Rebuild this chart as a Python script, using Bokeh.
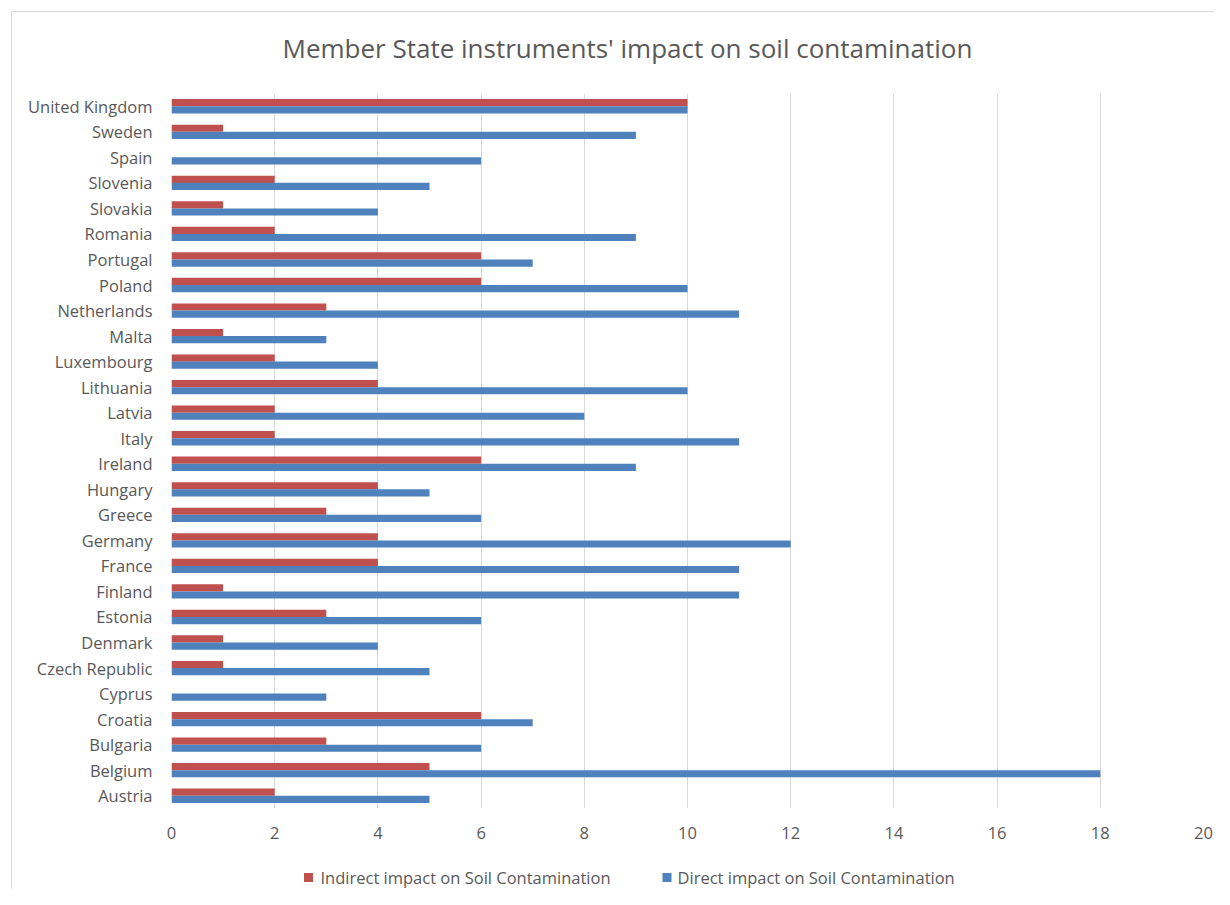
from bokeh.plotting import figure
from bokeh.layouts import column
from bokeh.models import FactorRange, Range1d, FixedTicker, ColumnDataSource
from bokeh.core.properties import value
from bokeh.transform import dodge
from bokeh.embed import file_html
from bokeh.resources import INLINE

countries = ["Austria", "Belgium", "Bulgaria", "Croatia", "Cyprus", "Czech Republic",
             "Denmark", "Estonia", "Finland", "France", "Germany", "Greece", "Hungary",
             "Ireland", "Italy", "Latvia", "Lithuania", "Luxembourg", "Malta",
             "Netherlands", "Poland", "Portugal", "Romania", "Slovakia", "Slovenia",
             "Spain", "Sweden", "United Kingdom"]
indirect = [2, 5, 3, 6, 0, 1, 1, 3, 1, 4, 4, 3, 4, 6, 2, 2, 4, 2, 1, 3, 6, 6, 2, 1, 2, 0, 1, 10]
direct = [5, 18, 6, 7, 3, 5, 4, 6, 11, 11, 12, 6, 5, 9, 11, 8, 10, 4, 3, 11, 10, 7, 9, 4, 5, 6, 9, 10]
x_ticks = [0, 2, 4, 6, 8, 10, 12, 14, 16, 18, 20]
series_names = ["Indirect impact on Soil Contamination", "Direct impact on Soil Contamination"]

TITLE = "Member State instruments' impact on soil contamination"
RED = "#C0504D"
BLUE = "#4F81BD"
GRAY = "#595959"
FONT = "Open Sans"
W = 1214
LEFT, RIGHT = 171, 11
MAIN_H, LEG_H = 846, 43

src = ColumnDataSource(dict(country=countries, indirect=indirect, direct=direct))

p = figure(width=W, height=MAIN_H, y_range=FactorRange(*countries), x_range=Range1d(0, 20),
           output_backend="svg", toolbar_location=None,
           min_border_left=LEFT, min_border_right=RIGHT, min_border_top=93,
           min_border_bottom=MAIN_H - 808)
p.border_fill_color = None
p.outline_line_color = None

p.hbar(y=dodge("country", 0.14, range=p.y_range), right="indirect", left=0, height=0.28,
       source=src, fill_color=RED, line_color=None)
p.hbar(y=dodge("country", -0.14, range=p.y_range), right="direct", left=0, height=0.28,
       source=src, fill_color=BLUE, line_color=None)

p.title.text = TITLE
p.title.align = "left"
p.title.offset = 111
p.title.vertical_align = "middle"
p.title.text_font = FONT
p.title.text_font_size = "26px"
p.title.text_font_style = "normal"
p.title.text_color = GRAY
p.title.standoff = 54

p.xaxis.ticker = FixedTicker(ticks=x_ticks)
p.xgrid.ticker = FixedTicker(ticks=x_ticks)
p.xgrid.grid_line_color = "#d9d9d9"
p.ygrid.grid_line_color = None

for ax in (p.xaxis[0], p.yaxis[0]):
    ax.axis_line_color = None
    ax.major_tick_line_color = None
    ax.minor_tick_line_color = None
    ax.major_label_text_font = FONT
    ax.major_label_text_font_size = "16.5px"
    ax.major_label_text_color = GRAY
p.xaxis.major_label_standoff = 12
p.yaxis.major_label_standoff = 13

# legend strip below the chart (pixel-like coordinates, frame aligned with main plot)
leg = figure(width=W, height=LEG_H, x_range=Range1d(LEFT, W - RIGHT), y_range=Range1d(0, LEG_H),
             output_backend="svg", toolbar_location=None,
             x_axis_location=None, y_axis_location=None,
             min_border_left=LEFT, min_border_right=RIGHT, min_border_top=0, min_border_bottom=0)
leg.border_fill_color = None
leg.background_fill_color = None
leg.outline_line_color = None
leg.grid.grid_line_color = None
leg.rect(x=[308, 666.5], y=[12, 12], width=9, height=9, fill_color=[RED, BLUE], line_color=None)
leg.text(x=[320, 677], y=[12, 12], text=series_names, text_baseline="middle", text_align="left",
         text_font=value(FONT), text_font_size="16.5px", text_color=GRAY)

layout = column(p, leg, spacing=0)
layout.styles = {"background": "linear-gradient(#d9d9d9,#d9d9d9) 11px 11px / 1px 100% no-repeat, "
                               "linear-gradient(#d9d9d9,#d9d9d9) 11px 11px / 100% 1px no-repeat, white"}

open("out.html", "w").write(file_html(layout, INLINE))
